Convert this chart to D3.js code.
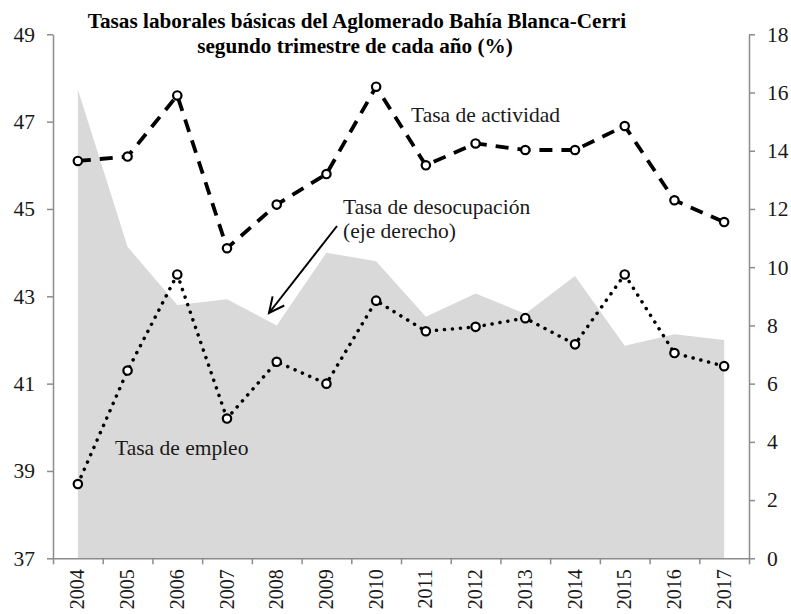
<!DOCTYPE html>
<html>
<head>
<meta charset="utf-8">
<script src="https://cdn.jsdelivr.net/npm/d3@7"></script>
<style>
  body { margin: 0; background: #fff; }
  svg { display: block; font-family: "Liberation Serif", "Times New Roman", serif; }
</style>
</head>
<body>
<script>
// years on the x axis
const years = ["2004", "2005", "2006", "2007", "2008", "2009", "2010",
               "2011", "2012", "2013", "2014", "2015", "2016", "2017"];
// tasa de actividad (left axis)
const actividad = [46.1, 46.2, 47.6, 44.1, 45.1, 45.8, 47.8,
                   46.0, 46.5, 46.35, 46.35, 46.9, 45.2, 44.7];
// tasa de empleo (left axis)
const empleo = [38.7, 41.3, 43.5, 40.2, 41.5, 41.0, 42.9,
                42.2, 42.3, 42.5, 41.9, 43.5, 41.7, 41.4];
// tasa de desocupacion (right axis)
const desocupacion = [16.1, 10.7, 8.7, 8.9, 8.0, 10.5, 10.2,
                      8.3, 9.1, 8.4, 9.7, 7.3, 7.7, 7.5];
const leftTicks = [37, 39, 41, 43, 45, 47, 49];
const rightTicks = [0, 2, 4, 6, 8, 10, 12, 14, 16, 18];

const width = 791, height = 614;
const plotLeft = 53, plotRight = 749, plotTop = 34.3, plotBottom = 558.3;
const axisColor = "#8c8c8c", textColor = "#1a1a1a";

const svg = d3.select("body").append("svg")
    .attr("width", width)
    .attr("height", height);

let x = d3.scaleBand().domain(years).range([plotLeft, plotRight]).padding(0);
let xEdge = d3.scaleLinear().domain([0, years.length]).range([plotLeft, plotRight]);
let yL = d3.scaleLinear().domain([37, 49]).range([plotBottom, plotTop]);
let yR = d3.scaleLinear().domain([0, 18]).range([plotBottom, plotTop]);
let cx = (d) => x(d) + x.bandwidth() / 2;

//grey area for desocupacion
svg.append("path")
    .datum(desocupacion)
    .attr("d", d3.area()
        .x((d, i) => cx(years[i]))
        .y0(yR(0))
        .y1((d) => yR(d)))
    .style("fill", "#d9d9d9");

//left axis
let gl = svg.append("g")
    .attr("transform", "translate(" + plotLeft + ",0)")
    .call(d3.axisLeft(yL).tickValues(leftTicks).tickSize(6).tickPadding(12).tickSizeOuter(0));
//right axis
let gr = svg.append("g")
    .attr("transform", "translate(" + plotRight + ",0)")
    .call(d3.axisRight(yR).tickValues(rightTicks).tickSize(6).tickPadding(12).tickSizeOuter(0));
//x axis tick marks sit between the years
let gx = svg.append("g")
    .attr("transform", "translate(0," + plotBottom + ")")
    .call(d3.axisBottom(xEdge).tickValues(d3.range(years.length + 1)).tickFormat("").tickSize(6).tickSizeOuter(0));
//year labels, rotated
let gxl = svg.append("g")
    .attr("transform", "translate(0," + plotBottom + ")")
    .call(d3.axisBottom(x).tickSize(0).tickPadding(0));
gxl.select(".domain").remove();

[gl, gr, gx, gxl].forEach(function (g) {
    g.attr("font-family", null);
    g.selectAll(".domain, line").style("stroke", axisColor).style("stroke-width", 1.5);
    g.selectAll("text")
        .style("font-family", "'Liberation Serif', serif")
        .style("font-size", "21.5px")
        .style("fill", textColor);
});
//years have to fit above the bottom edge
gxl.selectAll("text")
    .attr("transform", "rotate(-90)")
    .attr("x", -11)
    .attr("y", 0)
    .attr("dy", "0.33em")
    .style("text-anchor", "end")
    .style("font-size", "20px");

//lines
let lineL = d3.line().x((d, i) => cx(years[i])).y((d) => yL(d));

svg.append("path")
    .datum(actividad)
    .attr("d", lineL)
    .style("fill", "none")
    .style("stroke", "#000")
    .style("stroke-width", 3.8)
    .style("stroke-dasharray", "13,9");

svg.append("path")
    .datum(empleo)
    .attr("d", lineL)
    .style("fill", "none")
    .style("stroke", "#000")
    .style("stroke-width", 3.5)
    .style("stroke-linecap", "round")
    .style("stroke-dasharray", "0.1,7.9");

//markers
[actividad, empleo].forEach(function (series) {
    svg.append("g").selectAll("circle")
        .data(series)
        .join("circle")
        .attr("cx", (d, i) => cx(years[i]))
        .attr("cy", (d) => yL(d))
        .attr("r", 4.2)
        .style("fill", "#fff")
        .style("stroke", "#000")
        .style("stroke-width", 2.2);
});

//title
let title = svg.append("text")
    .attr("x", 357)
    .attr("y", 28)
    .style("text-anchor", "middle")
    .style("font-weight", "bold")
    .style("font-size", "21.2px")
    .style("fill", "#000");
title.append("tspan").attr("x", 357).text("Tasas laborales básicas del Aglomerado Bahía Blanca-Cerri");
title.append("tspan").attr("x", 355).attr("dy", 25).text("segundo trimestre de cada año (%)");

//annotations
function label(xPos, yPos, lines) {
    let t = svg.append("text")
        .attr("x", xPos)
        .attr("y", yPos)
        .style("font-size", "21.5px")
        .style("fill", textColor);
    lines.forEach(function (s, i) {
        t.append("tspan").attr("x", xPos).attr("dy", i === 0 ? 0 : 24).text(s);
    });
}
label(411, 122, ["Tasa de actividad"]);
label(343, 214, ["Tasa de desocupación", "(eje derecho)"]);
label(115, 455, ["Tasa de empleo"]);

//arrow pointing to the grey area
let ax1 = 337, ay1 = 226, ax2 = 269, ay2 = 313;
svg.append("line")
    .attr("x1", ax1).attr("y1", ay1)
    .attr("x2", ax2).attr("y2", ay2)
    .style("stroke", "#000")
    .style("stroke-width", 2);
let ang = Math.atan2(ay2 - ay1, ax2 - ax1);
let wing = 17, spread = 0.45;
svg.append("polyline")
    .attr("points", [
        [ax2 - wing * Math.cos(ang - spread), ay2 - wing * Math.sin(ang - spread)],
        [ax2, ay2],
        [ax2 - wing * Math.cos(ang + spread), ay2 - wing * Math.sin(ang + spread)]
    ].map((p) => p.join(",")).join(" "))
    .style("fill", "none")
    .style("stroke", "#000")
    .style("stroke-width", 2);
</script>
</body>
</html>
